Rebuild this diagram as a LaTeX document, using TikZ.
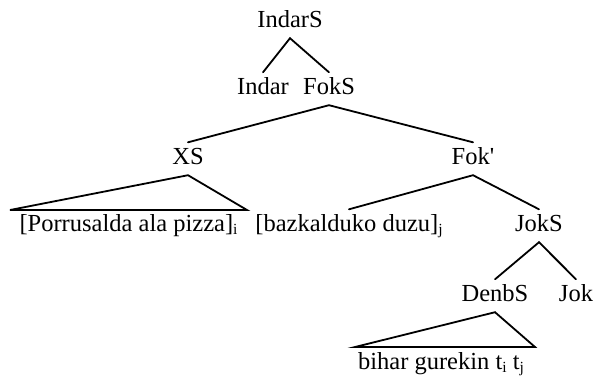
\documentclass[tikz,border=0pt]{standalone}
\usepackage{fontspec}
\setmainfont{Liberation Serif}
\newcommand{\sbs}[1]{\raisebox{-3bp}{\fontsize{15.5bp}{15.5bp}\selectfont #1}}
\begin{document}
\begin{tikzpicture}[x=1bp, y=-1bp,
  lbl/.style={anchor=base, inner xsep=0pt, inner ysep=3.5bp, text height=18bp, text depth=7.5bp, font=\fontsize{24.5bp}{29bp}\selectfont},
  edge/.style={line width=1.8bp, line cap=round, line join=miter}]
\useasboundingbox (0,0) rectangle (595,376);
\node[lbl] (IndarS) at (290,27) {IndarS};
\node[lbl] (Indar) at (263,94) {Indar};
\node[lbl] (FokS) at (329,94) {FokS};
\node[lbl] (XS) at (188,164) {XS};
\node[lbl] (Fokb) at (473,164) {Fok\textquotesingle};
\node[lbl] (Porr) at (128.5,231) {[Porrusalda ala pizza]\sbs{i}};
\node[lbl] (bazk) at (349,231) {[bazkalduko duzu]\sbs{j}};
\node[lbl] (JokS) at (539,231) {JokS};
\node[lbl] (DenbS) at (495,301) {DenbS};
\node[lbl] (Jok) at (576,301) {Jok};
\node[lbl] (bihar) at (441,369) {bihar gurekin t\sbs{i} t\sbs{j}};
\coordinate (xsL) at (10,210);
\coordinate (xsR) at (247,210);
\coordinate (dnL) at (355,347);
\coordinate (dnR) at (535,347);
\draw[edge] (Indar.north) -- (IndarS.south) -- (FokS.north);
\draw[edge] (XS.north) -- (FokS.south) -- (Fokb.north);
\draw[edge] (XS.south) -- (xsL) -- (xsR) -- cycle;
\draw[edge] (bazk.north) -- (Fokb.south) -- (JokS.north);
\draw[edge] (DenbS.north) -- (JokS.south) -- (Jok.north);
\draw[edge] (DenbS.south) -- (dnL) -- (dnR) -- cycle;
\end{tikzpicture}
\end{document}
